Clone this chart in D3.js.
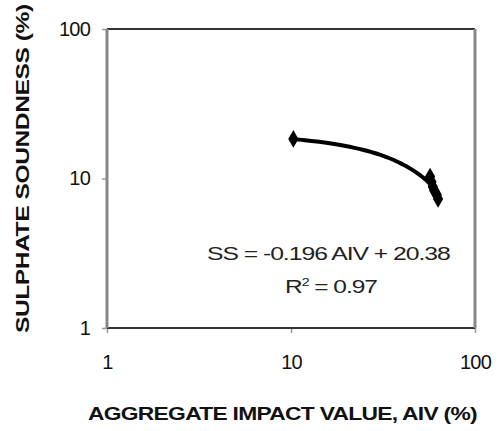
<!DOCTYPE html>
<html>
<head>
<meta charset="utf-8">
<script src="https://cdn.jsdelivr.net/npm/d3@7"></script>
<style>
  body { margin: 0; background: #fff; }
  text { font-family: "Liberation Sans", Arial, sans-serif; }
</style>
</head>
<body>
<div id="chart"></div>
<script>
// data
var aiv = [10.3, 57, 58, 59, 60, 62, 63];
var ss = [18.4, 10.3, 9.5, 8.8, 8.3, 7.8, 7.3];
var xTicks = [1, 10, 100];
var yTicks = [1, 10, 100];
var slope = -0.196, intercept = 20.38;
var eqLabel = "SS = -0.196 AIV + 20.38";
var r2Label = "0.97";

var width = 499, height = 431;
var margin = { top: 29, right: 24, bottom: 103, left: 107 };
var w = width - margin.left - margin.right;
var h = height - margin.top - margin.bottom;

var svg = d3.select("#chart").append("svg")
  .attr("width", width).attr("height", height);
var g = svg.append("g").attr("transform", `translate(${margin.left},${margin.top})`);

var x = d3.scaleLog().domain([1, 100]).range([0, w]);
var y = d3.scaleLog().domain([1, 100]).range([h, 0]);

// stretch a text horizontally to a target width (the scan has wide glyphs)
function fit(sel, px, py, target, rot) {
  var w0 = sel.node().getComputedTextLength();
  sel.attr("transform", `translate(${px},${py}) rotate(${rot || 0}) scale(${target / w0},1)`);
}

/* axes: ticks and labels only */
var yAxis = d3.axisLeft(y).tickValues(yTicks).tickFormat(d3.format("d")).tickSize(5).tickPadding(12);
var xAxis = d3.axisBottom(x).tickValues(xTicks).tickFormat(d3.format("d")).tickSize(5).tickPadding(28);

var ya = g.append("g").call(yAxis);
var xa = g.append("g").attr("transform", `translate(0,${h})`).call(xAxis);
[ya, xa].forEach(function (a) {
  a.select(".domain").remove();
  a.selectAll(".tick line").attr("stroke", "#999").attr("stroke-width", 1.5);
  a.selectAll(".tick text")
    .attr("fill", "#111")
    .style("font-size", "20px")
    .style("letter-spacing", "-0.8px");
});
xa.selectAll(".tick text").attr("dy", "0.4em");

/* frame */
g.append("line").attr("x1", 0).attr("x2", w).attr("y1", 0).attr("y2", 0)
  .attr("stroke", "#333").attr("stroke-width", 2);
g.append("line").attr("x1", 0).attr("x2", w).attr("y1", h).attr("y2", h)
  .attr("stroke", "#333").attr("stroke-width", 2);
g.append("line").attr("x1", 0).attr("x2", 0).attr("y1", 0).attr("y2", h)
  .attr("stroke", "#888").attr("stroke-width", 3);
g.append("line").attr("x1", w).attr("x2", w).attr("y1", 0).attr("y2", h)
  .attr("stroke", "#888").attr("stroke-width", 3);

/* trend line (linear fit drawn on log axes) */
var xs = d3.range(0, 41).map(function (i) {
  var lo = d3.min(aiv), hi = d3.max(aiv);
  return lo + (hi - lo) * i / 40;
});
var line = d3.line()
  .x(function (d) { return x(d); })
  .y(function (d) { return y(slope * d + intercept); })
  .curve(d3.curveBasis);
g.append("path").attr("d", line(xs))
  .attr("fill", "none").attr("stroke", "#000").attr("stroke-width", 4);

/* points as diamonds */
var diamond = d3.symbol().type(d3.symbolDiamond).size(90);
g.selectAll(".pt").data(aiv).enter().append("path")
  .attr("class", "pt")
  .attr("d", diamond)
  .attr("transform", function (d, i) { return `translate(${x(d)},${y(ss[i])})`; })
  .attr("fill", "#000");

/* equation */
var eq = svg.append("text")
  .style("font-size", "19px").style("letter-spacing", "-0.8px")
  .attr("fill", "#222")
  .text(eqLabel);
fit(eq, 207, 260, 243);
var r2 = svg.append("text")
  .style("font-size", "19px").style("letter-spacing", "-0.8px")
  .attr("fill", "#222");
r2.append("tspan").text("R");
r2.append("tspan").attr("dy", -7).style("font-size", "11px").text("2");
r2.append("tspan").attr("dy", 7).text(" = " + r2Label);
fit(r2, 285, 293, 92);

/* axis titles */
var xt = svg.append("text")
  .style("font-size", "19px").style("font-weight", "bold").style("letter-spacing", "-0.6px")
  .attr("fill", "#111")
  .text("AGGREGATE IMPACT VALUE, AIV (%)");
fit(xt, 88, 420, 389);
var yt = svg.append("text")
  .style("font-size", "19px").style("font-weight", "bold").style("letter-spacing", "-0.3px")
  .attr("fill", "#111")
  .text("SULPHATE SOUNDNESS (%)");
fit(yt, 29, 333, 329, -90);
</script>
</body>
</html>
